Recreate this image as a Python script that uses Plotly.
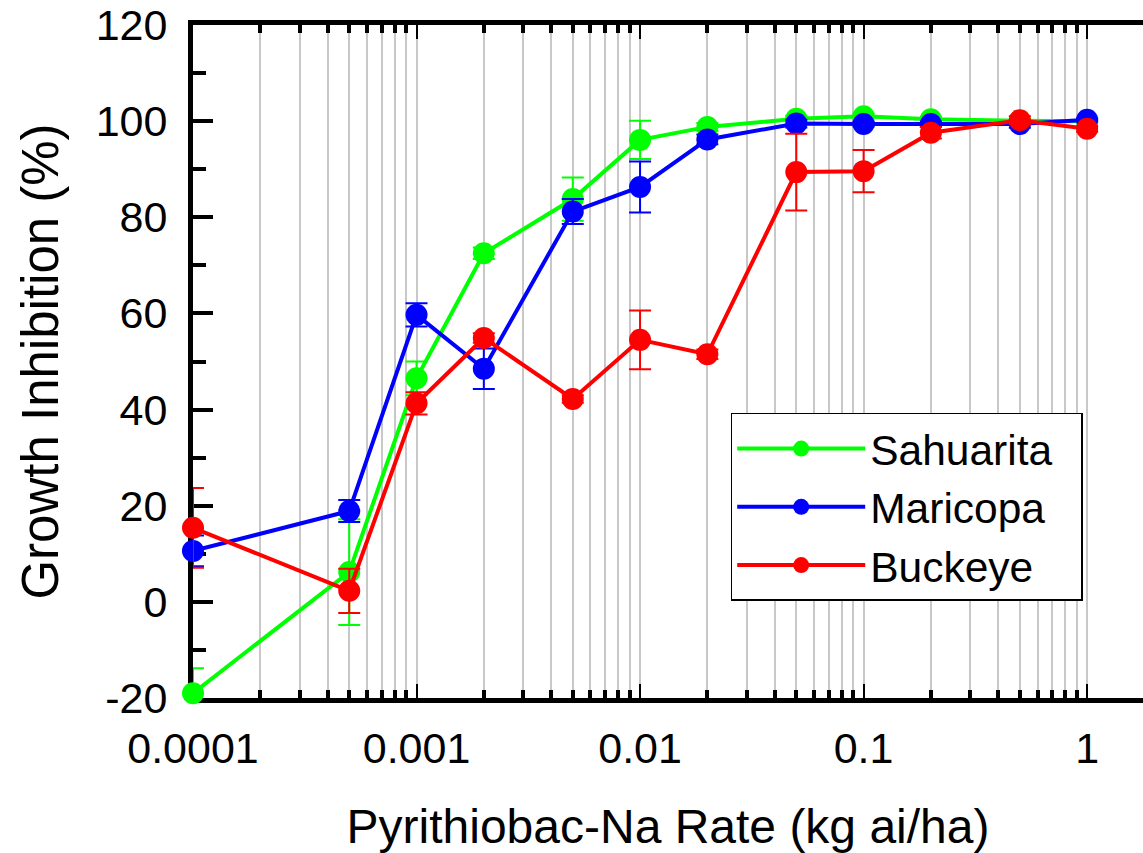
import plotly.graph_objects as go

# ---------------- data ----------------
rates = [0.0001, 0.0005, 0.001, 0.002, 0.005, 0.01, 0.02, 0.05, 0.1, 0.2, 0.5, 1]

sahuarita = [-19.0, 6.2, 46.5, 72.5, 83.8, 96.1, 98.8, 100.5, 101.0, 100.4, 100.1, 100.0]
sahuarita_err = [5.2, 11.0, 3.5, 1.2, 4.5, 4.0, 0.8, 0.6, 0.6, 0.5, 0.4, 0.3]
sahuarita_err_minus = [0.0, 11.0, 3.5, 1.2, 4.5, 4.0, 0.8, 0.6, 0.6, 0.5, 0.4, 0.3]

maricopa = [10.6, 18.9, 59.7, 48.5, 81.2, 86.3, 96.2, 99.5, 99.4, 99.4, 99.4, 100.3]
maricopa_err = [3.2, 2.3, 2.4, 4.2, 2.6, 5.3, 1.0, 0.8, 0.5, 0.5, 0.8, 0.3]

buckeye = [15.4, 2.3, 41.3, 54.9, 42.2, 54.5, 51.5, 89.4, 89.6, 97.6, 100.2, 98.4]
buckeye_err = [8.3, 4.6, 2.3, 1.0, 0.8, 6.1, 1.0, 8.0, 4.4, 1.2, 0.8, 0.6]

x_tick_vals = [0.0001, 0.001, 0.01, 0.1, 1]
x_tick_text = ["0.0001", "0.001", "0.01", "0.1", "1"]
x_minor_vals = [m * d for d in [0.0001, 0.001, 0.01, 0.1] for m in range(2, 10)]

y_tick_vals = [-20, 0, 20, 40, 60, 80, 100, 120]
y_tick_text = ["-20", "0", "20", "40", "60", "80", "100", "120"]

series = [
    ("Sahuarita", sahuarita, sahuarita_err, sahuarita_err_minus, "#00ff00"),
    ("Maricopa", maricopa, maricopa_err, maricopa_err, "#0000ff"),
    ("Buckeye", buckeye, buckeye_err, buckeye_err, "#ff0000"),
]

FONT = "Liberation Sans, Arial, sans-serif"
PAD = "\u00a0\u00a0"

fig = go.Figure()
for name, vals, ep, em, color in series:
    fig.add_trace(go.Scatter(
        x=rates, y=vals, name=name + PAD, mode="lines+markers",
        line=dict(color=color, width=4),
        marker=dict(color=color, size=22),
        error_y=dict(type="data", array=ep, arrayminus=em, symmetric=False,
                     color=color, thickness=2, width=11),
        cliponaxis=False,
    ))

fig.update_layout(
    width=1143, height=853,
    margin=dict(l=193, r=0, t=25, b=155),
    paper_bgcolor="white", plot_bgcolor="white",
    font=dict(family=FONT, color="black"),
    showlegend=True,
    legend=dict(
        x=0.566, y=0.4235, xanchor="left", yanchor="top",
        bgcolor="white", bordercolor="black", borderwidth=1.5,
        font=dict(size=42.5, family=FONT, color="black"),
        itemwidth=128,
    ),
    xaxis=dict(
        type="log", range=[-4, 0.25],
        tickmode="array", tickvals=x_tick_vals, ticktext=x_tick_text,
        ticks="inside", ticklen=14, tickwidth=1.5, tickcolor="black",
        showline=True, linewidth=5, linecolor="black", mirror="ticks",
        showgrid=True, gridcolor="#c8c8c8", gridwidth=2,
        minor=dict(tickmode="array", tickvals=x_minor_vals, ticks="inside",
                   ticklen=8, tickwidth=4, tickcolor="black",
                   showgrid=True, gridcolor="#c8c8c8", gridwidth=2),
        tickfont=dict(size=43, family=FONT, color="black"),
        ticklabelstandoff=8,
        title=dict(text="Pyrithiobac-Na Rate (kg ai/ha)",
                   font=dict(size=48, family=FONT, color="black"), standoff=40),
        zeroline=False, layer="below traces",
    ),
    yaxis=dict(
        range=[-20, 120], tickmode="array", tickvals=y_tick_vals, ticktext=y_tick_text,
        ticks="inside", ticklen=20, tickwidth=4, tickcolor="black",
        showline=True, linewidth=5, linecolor="black", mirror=False,
        minor=dict(dtick=10, tick0=0, ticks="inside", ticklen=13, tickwidth=4,
                   tickcolor="black", showgrid=False),
        showgrid=False, zeroline=False,
        tickfont=dict(size=43, family=FONT, color="black"),
        ticklabelstandoff=12,
        title=dict(text="Growth Inhibition (%)",
                   font=dict(size=51, family=FONT, color="black"), standoff=22),
        layer="below traces",
    ),
    yaxis2=dict(
        overlaying="y", side="right", range=[-20, 120], tick0=0, dtick=20,
        ticks="inside", ticklen=10, tickwidth=4, tickcolor="black",
        minor=dict(dtick=10, ticks="inside", ticklen=3, tickwidth=4, tickcolor="black"),
        showticklabels=False, showgrid=False, zeroline=False, showline=False,
        layer="below traces",
    ),
)

fig.write_html("out.html")
